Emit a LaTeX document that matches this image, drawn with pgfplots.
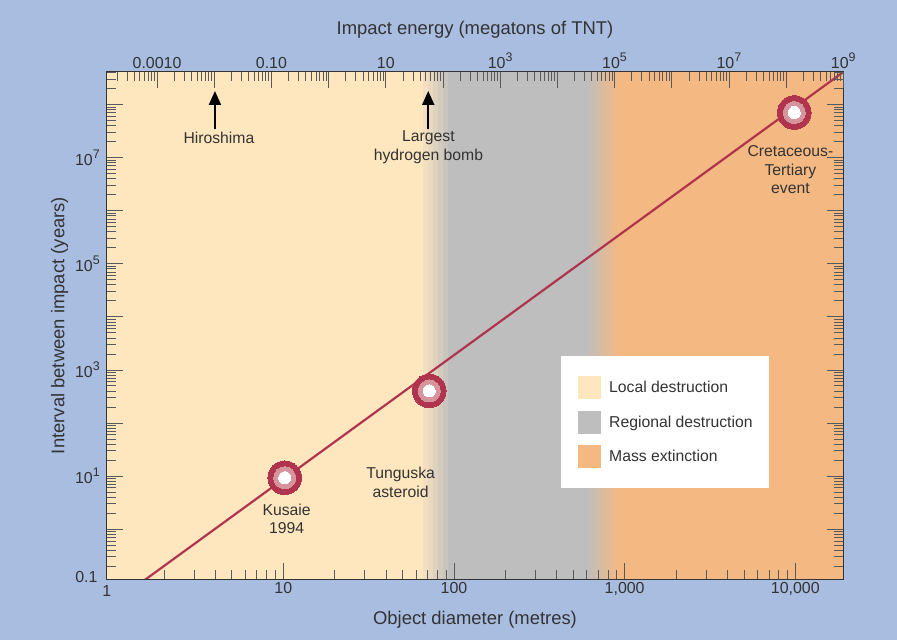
\documentclass[border=0pt]{standalone}
\usepackage{pgfplots}
\pgfplotsset{compat=1.18}
\usepackage{fontspec}
\setmainfont{Liberation Sans}
\usetikzlibrary{arrows.meta}
\definecolor{bgblue}{HTML}{A9BDE0}
\definecolor{local}{HTML}{FEE6BF}
\definecolor{regional}{HTML}{BEBEBE}
\definecolor{mass}{HTML}{F4B882}
\definecolor{crimson}{HTML}{B0344E}
\definecolor{pinkring}{HTML}{D6959C}
\definecolor{txt}{HTML}{333333}
\newcommand\lab{\fontsize{18.5}{21}\selectfont}
\newcommand\tickf{\fontsize{16}{18}\selectfont}
\newcommand\annot{\fontsize{15.8}{18.6}\selectfont}
\newcommand\tp[1]{10\raisebox{0.42em}{\fontsize{12.5}{13}\selectfont #1}}
\newcommand\band[3]{\addplot[fill=#3,draw=none,forget plot] coordinates {(#1,0.115) (#1,4.1e8) (#2,4.1e8) (#2,0.115)} -- cycle;}
\begin{document}
\begin{tikzpicture}
\path[use as bounding box, fill=bgblue] (-106.7bp,-61bp) rectangle (790.3bp,579bp);
\begin{axis}[
  name=main,
  scale only axis, width=736.6bp, height=507bp,
  xmode=log, ymode=log,
  xmin=0.924, xmax=19100, ymin=0.115, ymax=4.1e8,
  axis on top,
  axis line style={black!80, line width=1bp},
  tick style={color=black!65, line width=0.8bp},
  major tick length=16bp, minor tick length=9bp,
  tick align=inside,
  xtick pos=left, ytick pos=both,
  xtick={10,100,1000,10000},
  xticklabels={10,100,{1,000},{10,000}},
  minor xtick={2,3,4,5,6,7,8,9,20,30,40,50,60,70,80,90,200,300,400,500,600,700,800,900,2000,3000,4000,5000,6000,7000,8000,9000},
  ytick={1,10,100,1000,1e4,1e5,1e6,1e7,1e8},
  yticklabels={,\tp{1},,\tp{3},,\tp{5},,\tp{7},},
  minor ytick={0.2,0.3,0.4,0.5,0.6,0.7,0.8,0.9,2,3,4,5,6,7,8,9,20,30,40,50,60,70,80,90,200,300,400,500,600,700,800,900,2e3,3e3,4e3,5e3,6e3,7e3,8e3,9e3,2e4,3e4,4e4,5e4,6e4,7e4,8e4,9e4,2e5,3e5,4e5,5e5,6e5,7e5,8e5,9e5,2e6,3e6,4e6,5e6,6e6,7e6,8e6,9e6,2e7,3e7,4e7,5e7,6e7,7e7,8e7,9e7,2e8,3e8,4e8},
  tick label style={font=\tickf, text=txt},
  yticklabel style={xshift=-3.5bp},
  xlabel={Object diameter (metres)},
  xlabel style={at={(axis description cs:0.5,-0.0795)}, anchor=center, font=\lab, text=txt},
  ylabel={Interval between impact (years)},
  ylabel style={at={(axis description cs:-0.064,0.5)}, anchor=center, font=\lab, text=txt},
  legend image code/.code={\fill[#1, draw=none] (0bp,-11.5bp) rectangle (23bp,11.5bp);},
  legend cell align=left,
  legend style={at={(0.6168,0.4398)}, anchor=north west, draw=none, fill=white,
    inner xsep=16.3bp, inner ysep=20bp, row sep=11.5bp, column sep=8.6bp,
    nodes={inner sep=0pt, text=txt}, font=\annot},
]
\band{0.924}{66.1}{local}
\band{66.1}{70.7}{regional!17!local}
\band{70.7}{75.6}{regional!33!local}
\band{75.6}{80.9}{regional!50!local}
\band{80.9}{86.6}{regional!67!local}
\band{86.6}{92.6}{regional!83!local}
\band{92.6}{626}{regional}
\band{626}{672}{mass!17!regional}
\band{672}{721}{mass!33!regional}
\band{721}{774}{mass!50!regional}
\band{774}{831}{mass!67!regional}
\band{831}{901}{mass!83!regional}
\band{901}{19100}{mass}
\addlegendimage{fill=local, draw=none}
\addlegendentry{Local destruction}
\addlegendimage{fill=regional, draw=none}
\addlegendentry{Regional destruction}
\addlegendimage{fill=mass, draw=none}
\addlegendentry{Mass extinction}
\addplot[crimson, line width=2.2bp, forget plot] coordinates {(1.5,0.103) (20000,4.56e8)};
\addplot[only marks, mark=*, mark size=16.8bp, color=crimson, mark options={fill=crimson, draw=crimson, line width=0pt}, forget plot] coordinates {(10.2,9.3) (71.7,402) (9860,7.07e7)};
\addplot[only marks, mark=*, mark size=11bp, color=pinkring, mark options={fill=pinkring, draw=pinkring, line width=0pt}, forget plot] coordinates {(10.2,9.3) (71.7,402) (9860,7.07e7)};
\addplot[only marks, mark=*, mark size=6bp, color=white, mark options={fill=white, draw=white, line width=0pt}, forget plot] coordinates {(10.2,9.3) (71.7,402) (9860,7.07e7)};
\draw[-{Triangle[width=12bp,length=14bp]}, line width=2bp, black] (axis cs:3.98,3.41e7) -- (axis cs:3.98,1.8e8);
\draw[-{Triangle[width=12bp,length=14bp]}, line width=2bp, black] (axis cs:70.7,3.41e7) -- (axis cs:70.7,1.8e8);
\node[font=\annot, text=txt, inner sep=0pt] at (axis cs:4.2,2.34e7) {Hiroshima};
\node[font=\annot, text=txt, inner sep=0pt, align=center] at (axis cs:70.9,1.56e7) {Largest\\hydrogen bomb};
\node[font=\annot, text=txt, inner sep=0pt, align=center] at (axis cs:10.47,1.55) {Kusaie\\1994};
\node[font=\annot, text=txt, inner sep=0pt, align=center] at (axis cs:48.7,7.62) {Tunguska\\asteroid};
\node[font=\annot, text=txt, inner sep=0pt, align=center] at (axis cs:9354,5.9e6) {Cretaceous-\\Tertiary\\event};
\end{axis}
\begin{axis}[
  scale only axis, width=736.6bp, height=507bp,
  xmode=log, xmin=1.318e-4, xmax=1e9, ymin=0, ymax=1, ytick=\empty,
  axis line style={draw=none},
  tick style={color=black!65, line width=0.8bp},
  major tick length=16bp, minor tick length=9bp,
  tick align=inside,
  xtick pos=right, xticklabel pos=right,
  xtick={1e-3,1e-2,1e-1,1e0,1e1,1e2,1e3,1e4,1e5,1e6,1e7,1e8,1e9},
  xticklabels={0.0010,,0.10,,10,,\tp{3},,\tp{5},,\tp{7},,\tp{9}},
  minor xtick={2e-4,3e-4,4e-4,5e-4,6e-4,7e-4,8e-4,9e-4,2e-3,3e-3,4e-3,5e-3,6e-3,7e-3,8e-3,9e-3,2e-2,3e-2,4e-2,5e-2,6e-2,7e-2,8e-2,9e-2,0.2,0.3,0.4,0.5,0.6,0.7,0.8,0.9,2,3,4,5,6,7,8,9,20,30,40,50,60,70,80,90,200,300,400,500,600,700,800,900,2e3,3e3,4e3,5e3,6e3,7e3,8e3,9e3,2e4,3e4,4e4,5e4,6e4,7e4,8e4,9e4,2e5,3e5,4e5,5e5,6e5,7e5,8e5,9e5,2e6,3e6,4e6,5e6,6e6,7e6,8e6,9e6,2e7,3e7,4e7,5e7,6e7,7e7,8e7,9e7,2e8,3e8,4e8,5e8,6e8,7e8,8e8,9e8},
  tick label style={font=\tickf, text=txt},
  xlabel={Impact energy (megatons of TNT)},
  xlabel style={at={(axis description cs:0.5,1.0828)}, anchor=center, font=\lab, text=txt},
]
\addplot[draw=none] coordinates {(1,0.5)};
\end{axis}
\node[font=\tickf, text=txt, anchor=north, inner sep=0pt] at ([yshift=-6bp]main.south west) {1};
\node[font=\tickf, text=txt, anchor=east, inner sep=0pt] at ([xshift=-9bp,yshift=1.5bp]main.south west) {0.1};
\end{tikzpicture}
\end{document}
